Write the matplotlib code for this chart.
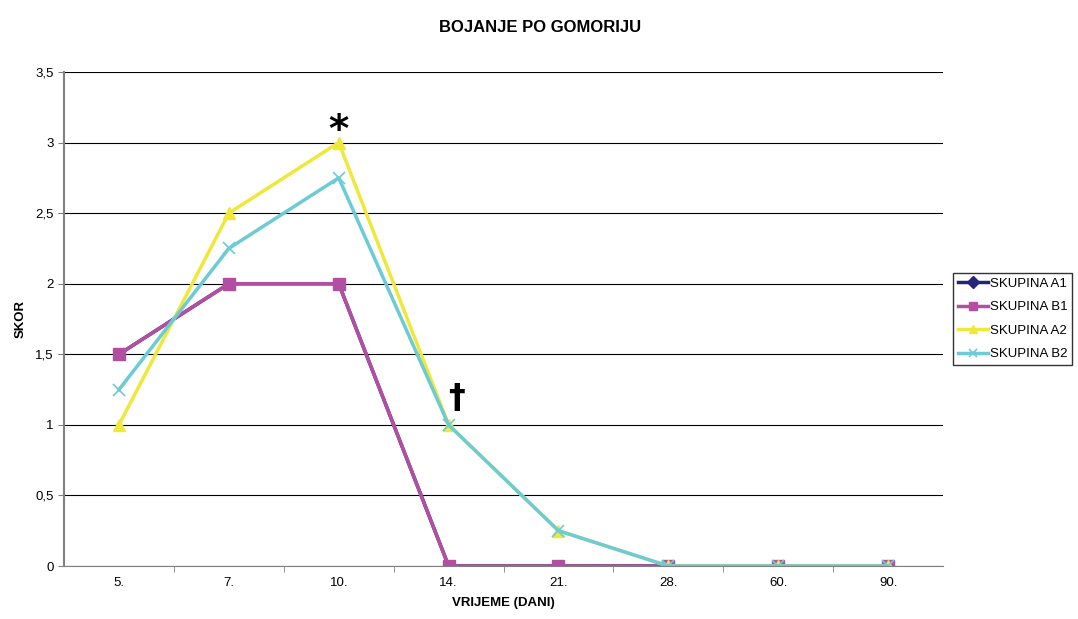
import matplotlib
matplotlib.use("Agg")
from matplotlib import pyplot as plt
from matplotlib.ticker import MultipleLocator, FixedLocator
import numpy as np

days = ["5.", "7.", "10.", "14.", "21.", "28.", "60.", "90."]
skupina_a1 = [1.5, 2, 2, 0, 0, 0, 0, 0]
skupina_b1 = [1.5, 2, 2, 0, 0, 0, 0, 0]
skupina_a2 = [1, 2.5, 3, 1, 0.25, 0, 0, 0]
skupina_b2 = [1.25, 2.25, 2.75, 1, 0.25, 0, 0, 0]

plt.rcParams['font.family'] = ['Liberation Sans', 'DejaVu Sans']

fig = plt.figure(figsize=(10.78, 6.19), dpi=100)
ax = fig.add_axes([0.0594, 0.0856, 0.8154, 0.7981])

x = np.arange(len(days))
ax.plot(x, skupina_a1, color="#24247a", lw=2.5, marker="D", ms=6, label="SKUPINA A1")
ax.plot(x, skupina_b1, color="#b24fa2", lw=2.5, marker="s", ms=8, label="SKUPINA B1")
ax.plot(x, skupina_a2, color="#efe83a", lw=2.5, marker="^", ms=9, label="SKUPINA A2")
ax.plot(x, skupina_b2, color="#6ccbd4", lw=2.5, marker="x", ms=9, mew=1.2, label="SKUPINA B2")

# oznake znacajnosti
ax.text(2, 2.95, "*", fontsize=28, ha="center", va="bottom", fontweight="bold", family="DejaVu Sans")
ax.text(3.07, 1.07, "\u2020", fontsize=24, ha="center", va="bottom", fontweight="bold", family="DejaVu Sans")

ax.set_xlim(-0.5, len(days) - 0.5)
ax.set_ylim(0, 3.5)
ax.set_xticks(x)
ax.set_xticklabels(days)
ax.xaxis.set_minor_locator(FixedLocator(x[:-1] + 0.5))
ax.tick_params(axis="x", which="major", length=0, labelsize=9.5, pad=8)
ax.tick_params(axis="x", which="minor", length=4, direction="out", color="#808080")
ax.yaxis.set_major_locator(MultipleLocator(0.5))
ax.yaxis.set_major_formatter(lambda v, p: f"{v:g}".replace(".", ","))
ax.tick_params(axis="y", length=4, labelsize=9.5, color="#808080")

ax.grid(axis="y", color="black", lw=0.8)
ax.set_axisbelow(True)
for s in ["top", "right"]:
    ax.spines[s].set_visible(False)
ax.spines["left"].set_color("#808080")
ax.spines["left"].set_linewidth(1.5)
ax.spines["bottom"].set_color("#808080")

fig.suptitle("BOJANJE PO GOMORIJU", x=0.501, y=0.967, fontsize=12, fontweight="bold")
ax.set_ylabel("SKOR", fontsize=9.5, fontweight="bold", labelpad=6)
ax.set_xlabel("VRIJEME (DANI)", fontsize=9.5, fontweight="bold", labelpad=6)

leg = ax.legend(loc="center left", bbox_to_anchor=(1.0114, 0.5), fontsize=9.5,
                frameon=True, fancybox=False, edgecolor="black", borderaxespad=0,
                handlelength=2.3, borderpad=0.35, labelspacing=0.85, handletextpad=0.15)
leg.get_frame().set_linewidth(1.0)
for h in leg.legend_handles:
    h.set_markersize(6)

plt.savefig("out.png", dpi=100)
